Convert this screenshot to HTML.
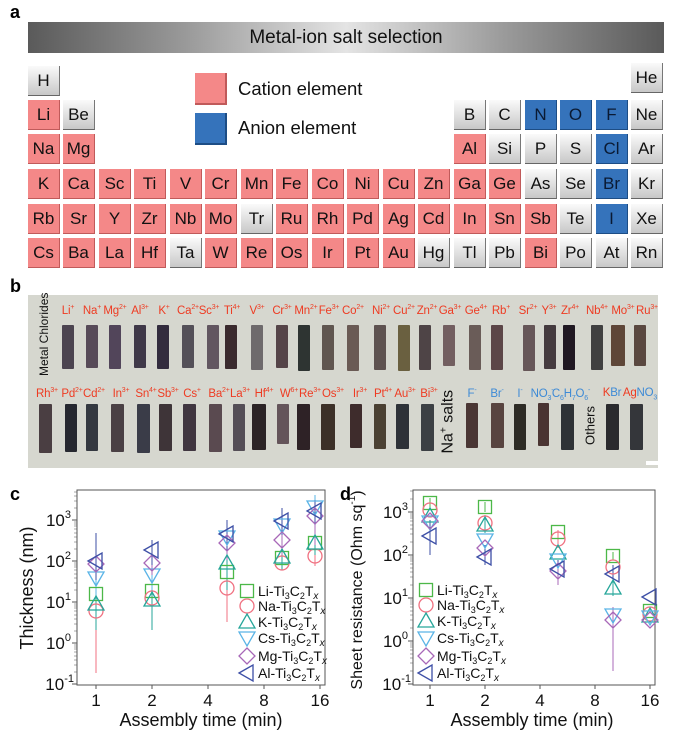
<!DOCTYPE html>
<html><head><meta charset="utf-8"><style>
body{margin:0;background:#fff;width:678px;height:735px;overflow:hidden;position:relative;font-family:"Liberation Sans",Arial,sans-serif}
.ab{position:absolute}
.L{position:absolute;font-weight:bold;font-size:18px;color:#000}
.bar{left:28px;top:22px;width:636px;height:31px;background:linear-gradient(90deg,#5a5a5a 0%,#9a9a9a 25%,#e4e4e4 50%,#9a9a9a 75%,#5a5a5a 100%);text-align:center;line-height:31px;font-size:19px;color:#111}
.c{position:absolute;width:32px;height:30px;line-height:30px;text-align:center;font-size:17px;color:#111;box-sizing:border-box;border-right:1.5px solid #777;border-bottom:1.5px solid #666}
.p{background:#f48888;border-color:#c05a5a}
.g{background:linear-gradient(180deg,#fafafa,#c8c8c8)}
.bl{background:#3573bb;border-color:#1d4d85;color:#0a1a33}
.photo{left:28px;top:295px;width:630px;height:173px;background:#d6d7cf}
.lb{position:absolute;font-size:11.5px;color:#ee3b22;transform:translateX(-50%);white-space:nowrap;letter-spacing:-0.2px}
.lb sup,.lb sub{font-size:7px}
.bu{color:#3d8ad6}
.s{position:absolute;background:#4a4048;border-radius:1px}
</style></head><body>
<div class="L" style="left:10px;top:2px">a</div>
<div class="ab bar">Metal-ion salt selection</div>

<div class="c g" style="left:28px;top:66px">H</div>
<div class="c g" style="left:631px;top:63px">He</div>
<div class="c p" style="left:28px;top:100px">Li</div>
<div class="c g" style="left:63px;top:100px">Be</div>
<div class="c g" style="left:454px;top:100px">B</div>
<div class="c g" style="left:489px;top:100px">C</div>
<div class="c bl" style="left:525px;top:100px">N</div>
<div class="c bl" style="left:560px;top:100px">O</div>
<div class="c bl" style="left:596px;top:100px">F</div>
<div class="c g" style="left:631px;top:100px">Ne</div>
<div class="c p" style="left:28px;top:134px">Na</div>
<div class="c p" style="left:63px;top:134px">Mg</div>
<div class="c p" style="left:454px;top:134px">Al</div>
<div class="c g" style="left:489px;top:134px">Si</div>
<div class="c g" style="left:525px;top:134px">P</div>
<div class="c g" style="left:560px;top:134px">S</div>
<div class="c bl" style="left:596px;top:134px">Cl</div>
<div class="c g" style="left:631px;top:134px">Ar</div>
<div class="c p" style="left:28px;top:169px">K</div>
<div class="c p" style="left:63px;top:169px">Ca</div>
<div class="c p" style="left:99px;top:169px">Sc</div>
<div class="c p" style="left:134px;top:169px">Ti</div>
<div class="c p" style="left:170px;top:169px">V</div>
<div class="c p" style="left:205px;top:169px">Cr</div>
<div class="c p" style="left:241px;top:169px">Mn</div>
<div class="c p" style="left:276px;top:169px">Fe</div>
<div class="c p" style="left:312px;top:169px">Co</div>
<div class="c p" style="left:347px;top:169px">Ni</div>
<div class="c p" style="left:383px;top:169px">Cu</div>
<div class="c p" style="left:418px;top:169px">Zn</div>
<div class="c p" style="left:454px;top:169px">Ga</div>
<div class="c p" style="left:489px;top:169px">Ge</div>
<div class="c g" style="left:525px;top:169px">As</div>
<div class="c g" style="left:560px;top:169px">Se</div>
<div class="c bl" style="left:596px;top:169px">Br</div>
<div class="c g" style="left:631px;top:169px">Kr</div>
<div class="c p" style="left:28px;top:204px">Rb</div>
<div class="c p" style="left:63px;top:204px">Sr</div>
<div class="c p" style="left:99px;top:204px">Y</div>
<div class="c p" style="left:134px;top:204px">Zr</div>
<div class="c p" style="left:170px;top:204px">Nb</div>
<div class="c p" style="left:205px;top:204px">Mo</div>
<div class="c g" style="left:241px;top:204px">Tr</div>
<div class="c p" style="left:276px;top:204px">Ru</div>
<div class="c p" style="left:312px;top:204px">Rh</div>
<div class="c p" style="left:347px;top:204px">Pd</div>
<div class="c p" style="left:383px;top:204px">Ag</div>
<div class="c p" style="left:418px;top:204px">Cd</div>
<div class="c p" style="left:454px;top:204px">In</div>
<div class="c p" style="left:489px;top:204px">Sn</div>
<div class="c p" style="left:525px;top:204px">Sb</div>
<div class="c g" style="left:560px;top:204px">Te</div>
<div class="c bl" style="left:596px;top:204px">I</div>
<div class="c g" style="left:631px;top:204px">Xe</div>
<div class="c p" style="left:28px;top:238px">Cs</div>
<div class="c p" style="left:63px;top:238px">Ba</div>
<div class="c p" style="left:99px;top:238px">La</div>
<div class="c p" style="left:134px;top:238px">Hf</div>
<div class="c g" style="left:170px;top:238px">Ta</div>
<div class="c p" style="left:205px;top:238px">W</div>
<div class="c p" style="left:241px;top:238px">Re</div>
<div class="c p" style="left:276px;top:238px">Os</div>
<div class="c p" style="left:312px;top:238px">Ir</div>
<div class="c p" style="left:347px;top:238px">Pt</div>
<div class="c p" style="left:383px;top:238px">Au</div>
<div class="c g" style="left:418px;top:238px">Hg</div>
<div class="c g" style="left:454px;top:238px">Tl</div>
<div class="c g" style="left:489px;top:238px">Pb</div>
<div class="c p" style="left:525px;top:238px">Bi</div>
<div class="c g" style="left:560px;top:238px">Po</div>
<div class="c g" style="left:596px;top:238px">At</div>
<div class="c g" style="left:631px;top:238px">Rn</div>

<div class="ab" style="left:195px;top:73px;width:32px;height:32px;background:#f48888;border-right:2px solid #c05a5a;border-bottom:2px solid #c05a5a;box-sizing:border-box"></div>
<div class="ab" style="left:238px;top:78px;font-size:18.5px;color:#111">Cation element</div>
<div class="ab" style="left:195px;top:113px;width:32px;height:32px;background:#3573bb;border-right:2px solid #1d4d85;border-bottom:2px solid #1d4d85;box-sizing:border-box"></div>
<div class="ab" style="left:238px;top:117px;font-size:18.5px;color:#111">Anion element</div>

<div class="L" style="left:10px;top:276px">b</div>
<div class="ab photo"></div>
<div class="ab" style="left:5px;top:330px;width:78px;text-align:center;transform:rotate(-90deg);font-size:12px;color:#111;white-space:nowrap">Metal Chlorides</div>
<div class="lb" style="left:68px;top:304px">Li<sup>+</sup></div>
<div class="lb" style="left:92px;top:304px">Na<sup>+</sup></div>
<div class="lb" style="left:115px;top:304px">Mg<sup>2+</sup></div>
<div class="lb" style="left:140px;top:304px">Al<sup>3+</sup></div>
<div class="lb" style="left:164px;top:304px">K<sup>+</sup></div>
<div class="lb" style="left:188px;top:304px">Ca<sup>2+</sup></div>
<div class="lb" style="left:209px;top:304px">Sc<sup>3+</sup></div>
<div class="lb" style="left:232px;top:304px">Ti<sup>4+</sup></div>
<div class="lb" style="left:257px;top:304px">V<sup>3+</sup></div>
<div class="lb" style="left:282px;top:304px">Cr<sup>3+</sup></div>
<div class="lb" style="left:306px;top:304px">Mn<sup>2+</sup></div>
<div class="lb" style="left:329px;top:304px">Fe<sup>3+</sup></div>
<div class="lb" style="left:353px;top:304px">Co<sup>2+</sup></div>
<div class="lb" style="left:381px;top:304px">Ni<sup>2+</sup></div>
<div class="lb" style="left:404px;top:304px">Cu<sup>2+</sup></div>
<div class="lb" style="left:427px;top:304px">Zn<sup>2+</sup></div>
<div class="lb" style="left:450px;top:304px">Ga<sup>3+</sup></div>
<div class="lb" style="left:476px;top:304px">Ge<sup>4+</sup></div>
<div class="lb" style="left:501px;top:304px">Rb<sup>+</sup></div>
<div class="lb" style="left:528px;top:304px">Sr<sup>2+</sup></div>
<div class="lb" style="left:549px;top:304px">Y<sup>3+</sup></div>
<div class="lb" style="left:570px;top:304px">Zr<sup>4+</sup></div>
<div class="lb" style="left:597px;top:304px">Nb<sup>4+</sup></div>
<div class="lb" style="left:623px;top:304px">Mo<sup>3+</sup></div>
<div class="lb" style="left:647px;top:304px">Ru<sup>3+</sup></div>
<div class="s" style="left:62px;top:325px;width:12px;height:44px;background:#4c4450"></div>
<div class="s" style="left:86px;top:325px;width:12px;height:43px;background:#574a58"></div>
<div class="s" style="left:109px;top:325px;width:12px;height:44px;background:#52455a"></div>
<div class="s" style="left:134px;top:325px;width:12px;height:43px;background:#3f3848"></div>
<div class="s" style="left:157px;top:325px;width:12px;height:44px;background:#332c3e"></div>
<div class="s" style="left:182px;top:325px;width:12px;height:43px;background:#545058"></div>
<div class="s" style="left:207px;top:325px;width:12px;height:44px;background:#625660"></div>
<div class="s" style="left:225px;top:325px;width:12px;height:44px;background:#3a2a2e"></div>
<div class="s" style="left:251px;top:325px;width:12px;height:45px;background:#6e6a6c"></div>
<div class="s" style="left:276px;top:325px;width:12px;height:43px;background:#554448"></div>
<div class="s" style="left:298px;top:325px;width:12px;height:46px;background:#2e3432"></div>
<div class="s" style="left:322px;top:325px;width:12px;height:45px;background:#605650"></div>
<div class="s" style="left:347px;top:325px;width:12px;height:46px;background:#6a5a54"></div>
<div class="s" style="left:374px;top:325px;width:12px;height:45px;background:#5e5250"></div>
<div class="s" style="left:398px;top:325px;width:12px;height:46px;background:#6a6040"></div>
<div class="s" style="left:419px;top:325px;width:12px;height:45px;background:#4e4446"></div>
<div class="s" style="left:443px;top:325px;width:12px;height:41px;background:#725e60"></div>
<div class="s" style="left:469px;top:325px;width:12px;height:45px;background:#6a5c58"></div>
<div class="s" style="left:491px;top:325px;width:12px;height:45px;background:#5c4648"></div>
<div class="s" style="left:523px;top:325px;width:12px;height:46px;background:#665658"></div>
<div class="s" style="left:544px;top:325px;width:12px;height:44px;background:#443a3e"></div>
<div class="s" style="left:563px;top:325px;width:12px;height:45px;background:#201822"></div>
<div class="s" style="left:591px;top:325px;width:12px;height:45px;background:#404040"></div>
<div class="s" style="left:611px;top:325px;width:14px;height:41px;background:#5e4638"></div>
<div class="s" style="left:634px;top:325px;width:12px;height:41px;background:#5a4840"></div>
<div class="lb" style="left:47px;top:387px">Rh<sup>3+</sup></div>
<div class="lb" style="left:72px;top:387px">Pd<sup>2+</sup></div>
<div class="lb" style="left:94px;top:387px">Cd<sup>2+</sup></div>
<div class="lb" style="left:121px;top:387px">In<sup>3+</sup></div>
<div class="lb" style="left:146px;top:387px">Sn<sup>4+</sup></div>
<div class="lb" style="left:168px;top:387px">Sb<sup>3+</sup></div>
<div class="lb" style="left:192px;top:387px">Cs<sup>+</sup></div>
<div class="lb" style="left:219px;top:387px">Ba<sup>2+</sup></div>
<div class="lb" style="left:240px;top:387px">La<sup>3+</sup></div>
<div class="lb" style="left:264px;top:387px">Hf<sup>4+</sup></div>
<div class="lb" style="left:289px;top:387px">W<sup>6+</sup></div>
<div class="lb" style="left:310px;top:387px">Re<sup>3+</sup></div>
<div class="lb" style="left:333px;top:387px">Os<sup>3+</sup></div>
<div class="lb" style="left:360px;top:387px">Ir<sup>3+</sup></div>
<div class="lb" style="left:383px;top:387px">Pt<sup>4+</sup></div>
<div class="lb" style="left:405px;top:387px">Au<sup>3+</sup></div>
<div class="lb" style="left:429px;top:387px">Bi<sup>3+</sup></div>
<div class="ab" style="left:408px;top:412px;width:80px;text-align:center;transform:rotate(-90deg);font-size:16px;color:#111;white-space:nowrap">Na<sup style="font-size:10px">+</sup> salts</div>
<div class="lb bu" style="left:472px;top:387px">F<sup>-</sup></div>
<div class="lb bu" style="left:497px;top:387px">Br<sup>-</sup></div>
<div class="lb bu" style="left:520px;top:387px">I<sup>-</sup></div>
<div class="lb bu" style="left:542px;top:387px">NO<sub>3</sub><sup>-</sup></div>
<div class="lb bu" style="left:571px;top:387px">C<sub>6</sub>H<sub>7</sub>O<sub>6</sub><sup>-</sup></div>
<div class="ab" style="left:565px;top:418px;width:50px;text-align:center;transform:rotate(-90deg);font-size:13px;color:#111">Others</div>
<div class="lb" style="left:612px;top:387px">K<span class="bu">Br</span></div>
<div class="lb" style="left:640px;top:387px">Ag<span class="bu">NO<sub>3</sub></span></div>
<div class="s" style="left:39px;top:404px;width:13px;height:49px;background:#4a3e42"></div>
<div class="s" style="left:65px;top:404px;width:12px;height:48px;background:#262830"></div>
<div class="s" style="left:86px;top:404px;width:12px;height:47px;background:#343840"></div>
<div class="s" style="left:111px;top:404px;width:13px;height:48px;background:#4a4044"></div>
<div class="s" style="left:137px;top:404px;width:13px;height:49px;background:#3a3c48"></div>
<div class="s" style="left:159px;top:404px;width:13px;height:47px;background:#3e3438"></div>
<div class="s" style="left:183px;top:404px;width:13px;height:47px;background:#403640"></div>
<div class="s" style="left:209px;top:404px;width:13px;height:48px;background:#5a4a50"></div>
<div class="s" style="left:233px;top:404px;width:12px;height:47px;background:#544e56"></div>
<div class="s" style="left:252px;top:404px;width:14px;height:46px;background:#2c2426"></div>
<div class="s" style="left:277px;top:404px;width:12px;height:40px;background:#64545a"></div>
<div class="s" style="left:297px;top:404px;width:13px;height:46px;background:#2e2226"></div>
<div class="s" style="left:321px;top:404px;width:14px;height:46px;background:#3c3028"></div>
<div class="s" style="left:350px;top:404px;width:12px;height:44px;background:#3e2c2c"></div>
<div class="s" style="left:374px;top:404px;width:12px;height:45px;background:#4a4032"></div>
<div class="s" style="left:396px;top:404px;width:13px;height:45px;background:#2e3238"></div>
<div class="s" style="left:421px;top:404px;width:13px;height:47px;background:#3c4044"></div>
<div class="s" style="left:466px;top:403px;width:12px;height:45px;background:#4a3634"></div>
<div class="s" style="left:491px;top:403px;width:13px;height:45px;background:#584440"></div>
<div class="s" style="left:514px;top:404px;width:12px;height:46px;background:#2e2c26"></div>
<div class="s" style="left:538px;top:403px;width:11px;height:43px;background:#4a3432"></div>
<div class="s" style="left:561px;top:404px;width:13px;height:46px;background:#2e3236"></div>
<div class="s" style="left:606px;top:404px;width:13px;height:46px;background:#2a2a2e"></div>
<div class="s" style="left:630px;top:404px;width:13px;height:46px;background:#34363a"></div>
<div class="ab" style="left:646px;top:461px;width:12px;height:4px;background:#fff"></div>

<svg class="ab" style="left:0;top:0" width="678" height="735" font-family="Liberation Sans, Arial, sans-serif">
<defs>
<rect id="sq" x="-6.5" y="-6.5" width="13" height="13" fill="none"/>
<circle id="ci" r="7" fill="none"/>
<path id="tu" d="M0,-8 L8,6 L-8,6Z" fill="none"/>
<path id="td" d="M0,8 L8,-6 L-8,-6Z" fill="none"/>
<path id="di" d="M0,-8 L8,0 L0,8 L-8,0Z" fill="none"/>
<path id="tl" d="M-8,0 L6,-8 L6,8Z" fill="none"/>
</defs>
<text x="10" y="500" font-size="18" font-weight="bold">c</text>
<text x="340" y="500" font-size="18" font-weight="bold">d</text>

<g stroke="#555" stroke-width="1" fill="none">
<rect x="77" y="490" width="248" height="195"/>
<path d="M77,520h-5M77,561h-5M77,602h-5M77,643h-5M77,684h-5"/>
<path d="M96,685v4M152,685v4M208,685v4M264,685v4M320,685v4"/>
<path stroke-width="0.6" d="M77,672h-3M77,665h-3M77,660h-3M77,656h-3M77,652h-3M77,649h-3M77,647h-3M77,645h-3M77,631h-3M77,624h-3M77,619h-3M77,615h-3M77,611h-3M77,608h-3M77,606h-3M77,604h-3M77,590h-3M77,583h-3M77,578h-3M77,574h-3M77,570h-3M77,567h-3M77,565h-3M77,563h-3M77,549h-3M77,542h-3M77,537h-3M77,533h-3M77,529h-3M77,526h-3M77,524h-3M77,522h-3M77,508h-3M77,501h-3M77,496h-3M77,492h-3"/>
</g>
<g font-size="17" fill="#111" text-anchor="end">
<text x="71" y="526">10<tspan font-size="11" dy="-8">3</tspan></text>
<text x="71" y="567">10<tspan font-size="11" dy="-8">2</tspan></text>
<text x="71" y="608">10<tspan font-size="11" dy="-8">1</tspan></text>
<text x="71" y="649">10<tspan font-size="11" dy="-8">0</tspan></text>
<text x="74" y="690">10<tspan font-size="11" dy="-8">-1</tspan></text>
</g>
<g font-size="17" fill="#111" text-anchor="middle">
<text x="96" y="706">1</text><text x="152" y="706">2</text><text x="208" y="706">4</text><text x="264" y="706">8</text><text x="320" y="706">16</text>
<text x="201" y="726" font-size="18">Assembly time (min)</text>
<text transform="translate(33,588) rotate(-90)" font-size="18">Thickness (nm)</text>
</g>
<g stroke-width="1">
<path stroke="#f07080" d="M96,673V603M152,630V590M227,622V576M282,570V556M315,566V546"/>
<path stroke="#26a69a" d="M96,630V590M152,630V590M227,590V540M282,570V545M315,555V530"/>
<path stroke="#5ab4e6" d="M96,595V560M152,590V560M227,555V520M282,545V510M315,520V495"/>
<path stroke="#a868b8" d="M96,575V550M152,575V550M227,560V525M282,555V525M315,545V500"/>
<path stroke="#3d4fa6" d="M96,580V533M152,565V540M227,550V520M282,535V508M315,525V500"/>
</g>
<g stroke-width="1.3">
<g stroke="#4cb848"><use href="#sq" x="96" y="594"/><use href="#sq" x="152" y="591"/><use href="#sq" x="227" y="572"/><use href="#sq" x="282" y="558"/><use href="#sq" x="315" y="543"/></g>
<g stroke="#f07080"><use href="#ci" x="96" y="611"/><use href="#ci" x="152" y="598"/><use href="#ci" x="227" y="588"/><use href="#ci" x="282" y="563"/><use href="#ci" x="315" y="556"/></g>
<g stroke="#26a69a"><use href="#tu" x="96" y="604"/><use href="#tu" x="152" y="600"/><use href="#tu" x="227" y="563"/><use href="#tu" x="282" y="557"/><use href="#tu" x="315" y="543"/></g>
<g stroke="#5ab4e6"><use href="#td" x="96" y="578"/><use href="#td" x="152" y="575"/><use href="#td" x="227" y="537"/><use href="#td" x="282" y="525"/><use href="#td" x="315" y="507"/></g>
<g stroke="#a868b8"><use href="#di" x="96" y="564"/><use href="#di" x="152" y="563"/><use href="#di" x="227" y="543"/><use href="#di" x="282" y="540"/><use href="#di" x="315" y="516"/></g>
<g stroke="#3d4fa6"><use href="#tl" x="96" y="561"/><use href="#tl" x="152" y="550"/><use href="#tl" x="227" y="534"/><use href="#tl" x="282" y="521"/><use href="#tl" x="315" y="511"/></g>
<use href="#sq" x="247" y="591" stroke="#4cb848"/>
<use href="#ci" x="247" y="606" stroke="#f07080"/>
<use href="#tu" x="247" y="622" stroke="#26a69a"/>
<use href="#td" x="247" y="638" stroke="#5ab4e6"/>
<use href="#di" x="247" y="656" stroke="#a868b8"/>
<use href="#tl" x="247" y="673" stroke="#3d4fa6"/>
</g>
<g font-size="14" fill="#111">
<text x="258" y="596">Li-Ti<tspan font-size="9" dy="3">3</tspan><tspan dy="-3">C</tspan><tspan font-size="9" dy="3">2</tspan><tspan dy="-3">T</tspan><tspan font-size="10" dy="3" font-style="italic">x</tspan></text>
<text x="258" y="611">Na-Ti<tspan font-size="9" dy="3">3</tspan><tspan dy="-3">C</tspan><tspan font-size="9" dy="3">2</tspan><tspan dy="-3">T</tspan><tspan font-size="10" dy="3" font-style="italic">x</tspan></text>
<text x="258" y="627">K-Ti<tspan font-size="9" dy="3">3</tspan><tspan dy="-3">C</tspan><tspan font-size="9" dy="3">2</tspan><tspan dy="-3">T</tspan><tspan font-size="10" dy="3" font-style="italic">x</tspan></text>
<text x="258" y="643">Cs-Ti<tspan font-size="9" dy="3">3</tspan><tspan dy="-3">C</tspan><tspan font-size="9" dy="3">2</tspan><tspan dy="-3">T</tspan><tspan font-size="10" dy="3" font-style="italic">x</tspan></text>
<text x="258" y="661">Mg-Ti<tspan font-size="9" dy="3">3</tspan><tspan dy="-3">C</tspan><tspan font-size="9" dy="3">2</tspan><tspan dy="-3">T</tspan><tspan font-size="10" dy="3" font-style="italic">x</tspan></text>
<text x="258" y="678">Al-Ti<tspan font-size="9" dy="3">3</tspan><tspan dy="-3">C</tspan><tspan font-size="9" dy="3">2</tspan><tspan dy="-3">T</tspan><tspan font-size="10" dy="3" font-style="italic">x</tspan></text>
</g>

<g stroke="#555" stroke-width="1" fill="none">
<rect x="413" y="490" width="242" height="195"/>
<path d="M413,512h-5M413,555h-5M413,598h-5M413,641h-5M413,684h-5"/>
<path d="M430,685v4M485,685v4M540,685v4M595,685v4M650,685v4"/>
<path stroke-width="0.6" d="M413,671h-3M413,663h-3M413,658h-3M413,654h-3M413,650h-3M413,647h-3M413,645h-3M413,643h-3M413,628h-3M413,620h-3M413,615h-3M413,611h-3M413,607h-3M413,604h-3M413,602h-3M413,600h-3M413,585h-3M413,577h-3M413,572h-3M413,568h-3M413,564h-3M413,561h-3M413,559h-3M413,557h-3M413,542h-3M413,534h-3M413,529h-3M413,525h-3M413,521h-3M413,518h-3M413,516h-3M413,514h-3M413,499h-3M413,491h-3"/>
</g>
<g font-size="17" fill="#111" text-anchor="end">
<text x="408" y="518">10<tspan font-size="11" dy="-8">3</tspan></text>
<text x="408" y="561">10<tspan font-size="11" dy="-8">2</tspan></text>
<text x="408" y="604">10<tspan font-size="11" dy="-8">1</tspan></text>
<text x="408" y="647">10<tspan font-size="11" dy="-8">0</tspan></text>
<text x="411" y="690">10<tspan font-size="11" dy="-8">-1</tspan></text>
</g>
<g font-size="17" fill="#111" text-anchor="middle">
<text x="430" y="706">1</text><text x="485" y="706">2</text><text x="540" y="706">4</text><text x="595" y="706">8</text><text x="650" y="706">16</text>
<text x="532" y="726" font-size="18">Assembly time (min)</text>
<text transform="translate(362,590) rotate(-90)" font-size="16">Sheet resistance (Ohm sq<tspan font-size="10" dy="-7">-1</tspan><tspan dy="7">)</tspan></text>
</g>
<g stroke-width="1">
<path stroke="#3d4fa6" d="M430,555V520M485,565V545M558,580V560M613,585V565"/>
<path stroke="#a868b8" d="M613,671V607M558,585V565"/>
<path stroke="#f07080" d="M558,548V530M485,530V515"/>
<path stroke="#26a69a" d="M613,596V580M485,533V518"/>
<path stroke="#4cb848" d="M613,560V552M485,512V502M430,508V498"/>
</g>
<g stroke-width="1.3">
<g stroke="#4cb848"><use href="#sq" x="430" y="503"/><use href="#sq" x="485" y="507"/><use href="#sq" x="558" y="532"/><use href="#sq" x="613" y="556"/><use href="#sq" x="650" y="611"/></g>
<g stroke="#f07080"><use href="#ci" x="430" y="510"/><use href="#ci" x="485" y="523"/><use href="#ci" x="558" y="539"/><use href="#ci" x="613" y="567"/><use href="#ci" x="650" y="614"/></g>
<g stroke="#26a69a"><use href="#tu" x="430" y="516"/><use href="#tu" x="485" y="525"/><use href="#tu" x="558" y="553"/><use href="#tu" x="613" y="588"/><use href="#tu" x="650" y="616"/></g>
<g stroke="#5ab4e6"><use href="#td" x="430" y="522"/><use href="#td" x="485" y="540"/><use href="#td" x="558" y="560"/><use href="#td" x="613" y="615"/><use href="#td" x="650" y="617"/></g>
<g stroke="#a868b8"><use href="#di" x="430" y="521"/><use href="#di" x="485" y="548"/><use href="#di" x="558" y="571"/><use href="#di" x="613" y="620"/><use href="#di" x="650" y="620"/></g>
<g stroke="#3d4fa6"><use href="#tl" x="430" y="536"/><use href="#tl" x="485" y="557"/><use href="#tl" x="558" y="569"/><use href="#tl" x="613" y="574"/><use href="#tl" x="650" y="597"/></g>
<use href="#sq" x="426" y="590" stroke="#4cb848"/>
<use href="#ci" x="426" y="605" stroke="#f07080"/>
<use href="#tu" x="426" y="621" stroke="#26a69a"/>
<use href="#td" x="426" y="638" stroke="#5ab4e6"/>
<use href="#di" x="426" y="656" stroke="#a868b8"/>
<use href="#tl" x="426" y="673" stroke="#3d4fa6"/>
</g>
<g font-size="14" fill="#111">
<text x="437" y="595">Li-Ti<tspan font-size="9" dy="3">3</tspan><tspan dy="-3">C</tspan><tspan font-size="9" dy="3">2</tspan><tspan dy="-3">T</tspan><tspan font-size="10" dy="3" font-style="italic">x</tspan></text>
<text x="437" y="610">Na-Ti<tspan font-size="9" dy="3">3</tspan><tspan dy="-3">C</tspan><tspan font-size="9" dy="3">2</tspan><tspan dy="-3">T</tspan><tspan font-size="10" dy="3" font-style="italic">x</tspan></text>
<text x="437" y="626">K-Ti<tspan font-size="9" dy="3">3</tspan><tspan dy="-3">C</tspan><tspan font-size="9" dy="3">2</tspan><tspan dy="-3">T</tspan><tspan font-size="10" dy="3" font-style="italic">x</tspan></text>
<text x="437" y="643">Cs-Ti<tspan font-size="9" dy="3">3</tspan><tspan dy="-3">C</tspan><tspan font-size="9" dy="3">2</tspan><tspan dy="-3">T</tspan><tspan font-size="10" dy="3" font-style="italic">x</tspan></text>
<text x="437" y="661">Mg-Ti<tspan font-size="9" dy="3">3</tspan><tspan dy="-3">C</tspan><tspan font-size="9" dy="3">2</tspan><tspan dy="-3">T</tspan><tspan font-size="10" dy="3" font-style="italic">x</tspan></text>
<text x="437" y="678">Al-Ti<tspan font-size="9" dy="3">3</tspan><tspan dy="-3">C</tspan><tspan font-size="9" dy="3">2</tspan><tspan dy="-3">T</tspan><tspan font-size="10" dy="3" font-style="italic">x</tspan></text>
</g>
</svg>
</body></html>
